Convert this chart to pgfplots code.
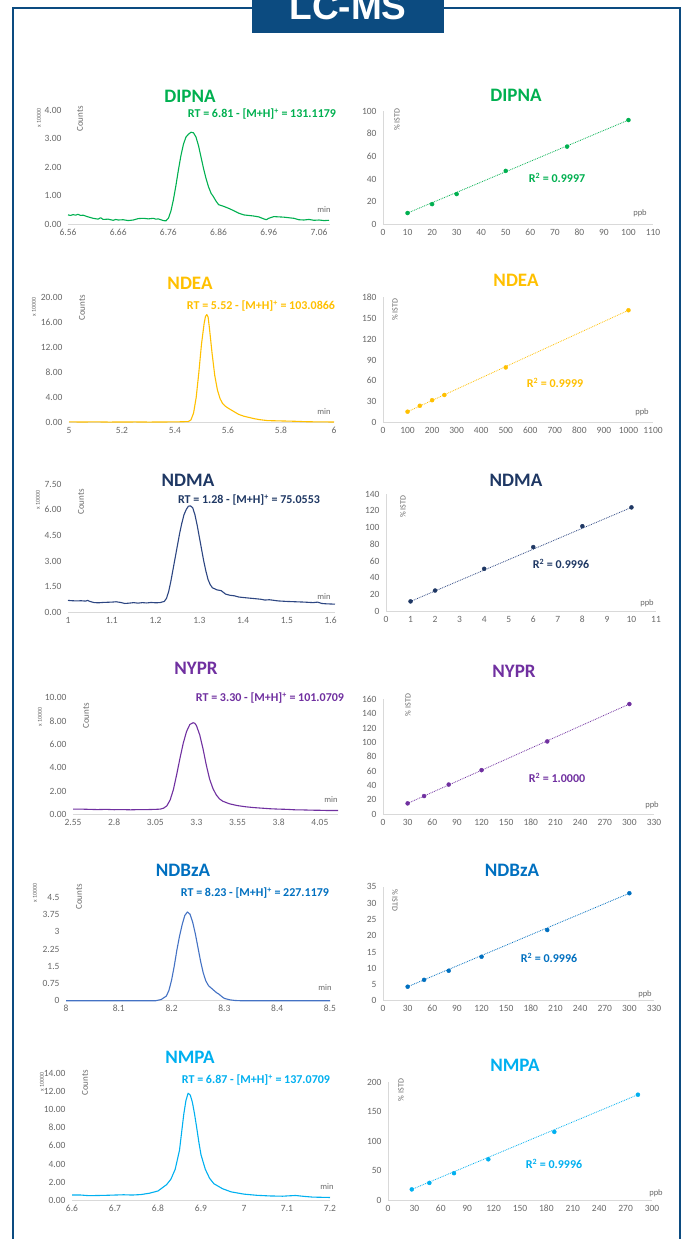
\documentclass[border=0pt]{standalone}
\usepackage{pgfplots}
\pgfplotsset{compat=1.18}
\usepackage{fontspec}
\setmainfont{Carlito}
\newfontfamily\lsb{Liberation Sans}[BoldFont={Liberation Sans Bold}]
\newcommand{\fs}[1]{\fontsize{#1}{#1}\selectfont}
\definecolor{frameblue}{RGB}{12,75,128}
\definecolor{cgreen}{RGB}{0,176,80}
\definecolor{cgold}{RGB}{255,192,0}
\definecolor{cnavy}{RGB}{31,56,100}
\definecolor{cnavyl}{RGB}{45,70,130}
\definecolor{cpurple}{RGB}{112,48,160}
\definecolor{cblue}{RGB}{0,112,192}
\definecolor{cbluel}{RGB}{68,114,196}
\definecolor{ccyan}{RGB}{0,176,240}
\definecolor{axgray}{RGB}{217,217,217}
\definecolor{lblgray}{RGB}{105,105,105}
\pgfplotsset{
  base/.style={scale only axis, anchor=south west, axis lines*=left,
    axis line style={draw=axgray, line width=0.8pt}, major tick length=0pt,
    tick label style={font=\fs{9.5}, text=lblgray},
    /pgf/number format/assume math mode=true, /pgf/number format/1000 sep={},
    clip=false, ymin=0,
    xticklabel style={yshift=-1pt, text height=6.5pt, text depth=0pt, anchor=north},
    yticklabel style={xshift=-3pt, text height=6.5pt, text depth=0pt}},
  leftc/.style={base, y axis line style={draw=none},
    xticklabel style={/pgf/number format/fixed, /pgf/number format/precision=2},
    yticklabel style={/pgf/number format/fixed, /pgf/number format/fixed zerofill, /pgf/number format/precision=2}},
  rightc/.style={base, xmin=0},
  chrom/.style={line width=1.1pt, line join=round, mark=none},
  trend/.style={densely dotted, line width=0.8pt, mark=none},
  pts/.style={only marks, mark=*, mark size=2pt},
}
\begin{document}
\begin{tikzpicture}
\useasboundingbox (0,0) rectangle (684pt,-1239pt);
\clip (0,0) rectangle (684pt,-1239pt);
\fill[white] (0,0) rectangle (684pt,-1239pt);
\draw[frameblue, line width=2.5pt] (13pt,-1260pt) -- (13pt,-8pt) -- (680pt,-8pt) -- (680pt,-1260pt);
\fill[frameblue] (252pt,5pt) rectangle (444pt,-33pt);
\node[anchor=base, text=white, font=\lsb\bfseries\fs{37}, inner sep=0pt] at (348pt,-19.5pt) {LC-MS};

% ================= DIPNA =================
\begin{axis}[leftc, at={(68pt,-224pt)}, width=262pt, height=114pt,
  xmin=6.56, xmax=7.082, ymax=4, xtick={6.56,6.66,6.76,6.86,6.96,7.06}, ytick={0,1,2,3,4}]
\addplot[chrom, cgreen] coordinates {
(6.56,0.32)(6.565,0.30)(6.57,0.33)(6.575,0.31)(6.58,0.34)(6.585,0.30)(6.59,0.31)(6.60,0.25)(6.61,0.20)(6.62,0.17)(6.625,0.22)(6.63,0.16)(6.64,0.17)(6.65,0.13)(6.655,0.16)(6.66,0.14)(6.67,0.15)(6.68,0.12)(6.69,0.14)(6.70,0.19)(6.71,0.20)(6.72,0.18)(6.73,0.20)(6.735,0.17)(6.74,0.18)(6.745,0.15)(6.75,0.12)(6.755,0.11)(6.76,0.20)(6.765,0.45)(6.77,0.85)(6.775,1.35)(6.78,1.90)(6.785,2.40)(6.79,2.80)(6.795,3.05)(6.80,3.15)(6.805,3.22)(6.81,3.20)(6.815,3.05)(6.82,2.75)(6.825,2.35)(6.83,1.95)(6.835,1.60)(6.84,1.30)(6.845,1.08)(6.85,0.95)(6.855,0.80)(6.86,0.68)(6.865,0.65)(6.87,0.62)(6.88,0.55)(6.89,0.47)(6.90,0.38)(6.91,0.32)(6.92,0.30)(6.93,0.28)(6.94,0.25)(6.95,0.18)(6.955,0.15)(6.96,0.20)(6.97,0.26)(6.98,0.25)(6.99,0.24)(7.00,0.22)(7.01,0.20)(7.02,0.15)(7.03,0.14)(7.04,0.16)(7.05,0.13)(7.06,0.14)(7.07,0.12)(7.08,0.13)};
\end{axis}
\begin{axis}[rightc, at={(383pt,-224pt)}, width=270pt, height=113pt,
  xmax=110, ymax=100, xtick={0,10,...,110}, ytick={0,20,...,100}]
\addplot[trend, cgreen] coordinates {(10,9.7)(100,92)};
\addplot[pts, cgreen] coordinates {(10,9.7)(20,17.6)(30,26.5)(50,47)(75,68.5)(100,92)};
\end{axis}

% ================= NDEA =================
\begin{axis}[leftc, at={(69pt,-422.5pt)}, width=265pt, height=125.5pt,
  xmin=5, xmax=6, ymax=20, xtick={5,5.2,5.4,5.6,5.8,6}, ytick={0,4,8,12,16,20}]
\addplot[chrom, cgold] coordinates {
(5.00,0.10)(5.05,0.08)(5.10,0.10)(5.15,0.07)(5.20,0.08)(5.25,0.09)(5.30,0.07)(5.35,0.08)(5.40,0.10)(5.43,0.12)(5.45,0.15)(5.46,0.40)(5.47,1.5)(5.48,4.0)(5.49,8.0)(5.50,12.5)(5.51,15.8)(5.515,16.9)(5.52,17.2)(5.525,16.8)(5.53,15.0)(5.54,11.0)(5.55,7.5)(5.56,5.2)(5.57,3.8)(5.58,3.0)(5.59,2.6)(5.60,2.3)(5.62,1.8)(5.64,1.3)(5.66,1.0)(5.68,0.8)(5.70,0.6)(5.72,0.45)(5.75,0.3)(5.80,0.25)(5.85,0.2)(5.90,0.12)(5.95,0.10)(6.00,0.08)};
\end{axis}
\begin{axis}[rightc, at={(383pt,-422.5pt)}, width=270pt, height=125.5pt,
  xmax=1100, ymax=180, xtick={0,100,...,1100}, ytick={0,30,...,180}]
\addplot[trend, cgold] coordinates {(100,15.5)(1000,161)};
\addplot[pts, cgold] coordinates {(100,15.5)(150,24)(200,32)(250,39.5)(500,79)(1000,161)};
\end{axis}

% ================= NDMA =================
\begin{axis}[leftc, at={(68pt,-612pt)}, width=267pt, height=128pt,
  xmin=1, xmax=1.61, ymax=7.5, xtick={1,1.1,1.2,1.3,1.4,1.5,1.6}, ytick={0,1.5,3,4.5,6,7.5}]
\addplot[chrom, cnavyl] coordinates {
(1.00,0.68)(1.01,0.66)(1.02,0.65)(1.03,0.66)(1.04,0.64)(1.045,0.68)(1.05,0.62)(1.06,0.55)(1.07,0.54)(1.08,0.56)(1.09,0.57)(1.10,0.58)(1.11,0.60)(1.12,0.56)(1.13,0.50)(1.14,0.52)(1.15,0.55)(1.16,0.52)(1.17,0.55)(1.18,0.53)(1.19,0.56)(1.20,0.54)(1.21,0.55)(1.22,0.62)(1.225,0.80)(1.23,1.2)(1.235,1.8)(1.24,2.5)(1.245,3.2)(1.25,3.9)(1.255,4.6)(1.26,5.2)(1.265,5.7)(1.27,6.0)(1.275,6.2)(1.28,6.22)(1.285,6.1)(1.29,5.7)(1.295,5.1)(1.30,4.4)(1.305,3.7)(1.31,3.0)(1.315,2.4)(1.32,1.9)(1.325,1.6)(1.33,1.42)(1.34,1.3)(1.35,1.25)(1.355,1.15)(1.36,1.05)(1.37,0.98)(1.38,0.95)(1.39,0.88)(1.40,0.85)(1.42,0.80)(1.44,0.75)(1.45,0.70)(1.46,0.72)(1.48,0.65)(1.50,0.62)(1.52,0.60)(1.54,0.58)(1.56,0.55)(1.57,0.58)(1.58,0.50)(1.59,0.48)(1.60,0.47)(1.61,0.46)};
\end{axis}
\begin{axis}[rightc, at={(386pt,-611pt)}, width=270pt, height=117pt,
  xmax=11, ymax=140, xtick={0,1,...,11}, ytick={0,20,...,140}]
\addplot[trend, cnavyl] coordinates {(1,11.5)(10,124)};
\addplot[pts, cnavy] coordinates {(1,11.5)(2,24.5)(4,50.5)(6,76.5)(8,101.5)(10,124)};
\end{axis}

% ================= NYPR =================
\begin{axis}[leftc, at={(73pt,-814pt)}, width=265pt, height=116.3pt,
  xmin=2.55, xmax=4.16, ymax=10, xtick={2.55,2.8,3.05,3.3,3.55,3.8,4.05}, ytick={0,2,4,6,8,10}]
\addplot[chrom, cpurple] coordinates {
(2.55,0.42)(2.6,0.42)(2.65,0.40)(2.7,0.38)(2.75,0.40)(2.8,0.37)(2.85,0.38)(2.9,0.36)(2.95,0.38)(3.0,0.38)(3.05,0.40)(3.08,0.42)(3.10,0.50)(3.12,0.7)(3.14,1.2)(3.16,2.1)(3.18,3.4)(3.20,4.8)(3.22,6.1)(3.24,7.1)(3.26,7.7)(3.28,7.85)(3.29,7.8)(3.30,7.6)(3.32,6.8)(3.34,5.6)(3.36,4.2)(3.38,3.0)(3.40,2.2)(3.42,1.65)(3.44,1.30)(3.46,1.1)(3.50,0.88)(3.55,0.72)(3.60,0.62)(3.65,0.55)(3.70,0.50)(3.75,0.45)(3.8,0.42)(3.85,0.40)(3.9,0.36)(3.95,0.35)(4.0,0.33)(4.05,0.32)(4.10,0.30)(4.16,0.30)};
\end{axis}
\begin{axis}[rightc, at={(383pt,-814pt)}, width=271pt, height=115pt,
  xmax=330, ymax=160, xtick={0,30,...,330}, ytick={0,20,...,160}]
\addplot[trend, cpurple] coordinates {(30,14.8)(300,153)};
\addplot[pts, cpurple] coordinates {(30,14.8)(50,25)(80,41)(120,61)(200,101)(300,153)};
\end{axis}

% ================= NDBzA =================
\begin{axis}[leftc, at={(66pt,-1000.7pt)}, width=264pt, height=103.7pt,
  xmin=8, xmax=8.5, ymax=4.5, xtick={8,8.1,8.2,8.3,8.4,8.5}, ytick={0,0.75,1.5,2.25,3,3.75,4.5},
  yticklabel style={/pgf/number format/fixed, /pgf/number format/fixed zerofill=false, /pgf/number format/precision=2}]
\addplot[chrom, cbluel] coordinates {
(8.00,0)(8.10,0)(8.17,0)(8.18,0.05)(8.19,0.2)(8.195,0.45)(8.20,0.9)(8.205,1.5)(8.21,2.2)(8.215,2.8)(8.22,3.3)(8.225,3.7)(8.23,3.85)(8.235,3.75)(8.24,3.4)(8.245,2.9)(8.25,2.3)(8.255,1.7)(8.26,1.2)(8.265,0.85)(8.27,0.65)(8.275,0.55)(8.28,0.45)(8.285,0.35)(8.29,0.28)(8.295,0.18)(8.30,0.10)(8.31,0.04)(8.32,0.01)(8.33,0)(8.5,0)};
\end{axis}
\begin{axis}[rightc, at={(383pt,-1000.7pt)}, width=271pt, height=114pt,
  xmax=330, ymax=35, xtick={0,30,...,330}, ytick={0,5,...,35}]
\addplot[trend, cblue] coordinates {(30,4.3)(300,33)};
\addplot[pts, cblue] coordinates {(30,4.3)(50,6.4)(80,9.2)(120,13.5)(200,21.7)(300,33)};
\end{axis}

% ================= NMPA =================
\begin{axis}[leftc, at={(72pt,-1200pt)}, width=258pt, height=126.7pt,
  xmin=6.6, xmax=7.2, ymax=14, xtick={6.6,6.7,6.8,6.9,7,7.1,7.2}, ytick={0,2,...,14}]
\addplot[chrom, ccyan] coordinates {
(6.60,0.55)(6.62,0.55)(6.64,0.48)(6.66,0.50)(6.68,0.52)(6.70,0.55)(6.72,0.58)(6.74,0.55)(6.76,0.60)(6.78,0.75)(6.80,1.0)(6.82,1.7)(6.83,2.3)(6.84,3.4)(6.85,5.5)(6.855,7.5)(6.86,9.5)(6.865,11.0)(6.87,11.8)(6.875,11.6)(6.88,10.8)(6.885,9.5)(6.89,8.0)(6.895,6.4)(6.90,5.0)(6.91,3.4)(6.92,2.4)(6.93,1.8)(6.95,1.25)(6.97,0.9)(7.00,0.65)(7.03,0.52)(7.06,0.45)(7.09,0.42)(7.10,0.45)(7.12,0.5)(7.14,0.4)(7.16,0.32)(7.18,0.3)(7.20,0.28)};
\end{axis}
\begin{axis}[rightc, at={(388pt,-1200pt)}, width=264pt, height=118pt,
  xmax=300, ymax=200, xtick={0,30,...,300}, ytick={0,50,...,200}]
\addplot[trend, ccyan] coordinates {(27,18)(284,178.5)};
\addplot[pts, ccyan] coordinates {(27,18)(47,29)(75,45.5)(114,69)(189,115.5)(284,178.5)};
\end{axis}

% ================= annotations =================
\tikzset{ttl/.style={font=\bfseries\fs{19}, inner sep=0pt},
  rt/.style={font=\bfseries\fs{12}, inner sep=0pt},
  r2/.style={font=\bfseries\fs{12}, inner sep=0pt},
  xk/.style={rotate=90, font=\fs{6}, text=lblgray, inner sep=0pt},
  cnt/.style={rotate=90, font=\fs{9}, text=lblgray, inner sep=0pt},
  unit/.style={font=\fs{8.5}, text=lblgray, inner sep=0pt},
  istd/.style={rotate=90, font=\fs{8}, text=lblgray, inner sep=0pt}}
% DIPNA
\node[ttl, text=cgreen] at (190pt,-96pt) {DIPNA};
\node[rt, text=cgreen] at (262pt,-114pt) {RT = 6.81 - [M+H]\textsuperscript{+} = 131.1179};
\node[xk] at (39pt,-118pt) {x 10000};
\node[cnt] at (80pt,-119pt) {Counts};
\node[unit] at (324pt,-210pt) {min};
\node[ttl, text=cgreen] at (516pt,-95pt) {DIPNA};
\node[istd] at (397pt,-120pt) {\% ISTD};
\node[r2, text=cgreen] at (557pt,-178pt) {R\textsuperscript{2} = 0.9997};
\node[unit] at (640pt,-213pt) {ppb};
% NDEA
\node[ttl, text=cgold] at (190pt,-283pt) {NDEA};
\node[rt, text=cgold] at (261pt,-306pt) {RT = 5.52 - [M+H]\textsuperscript{+} = 103.0866};
\node[xk] at (34pt,-307pt) {x 10000};
\node[cnt] at (82pt,-308pt) {Counts};
\node[unit] at (324pt,-412pt) {min};
\node[ttl, text=cgold] at (516pt,-280pt) {NDEA};
\node[istd] at (395pt,-310pt) {\% ISTD};
\node[r2, text=cgold] at (555pt,-383pt) {R\textsuperscript{2} = 0.9999};
\node[unit] at (642pt,-412pt) {ppb};
% NDMA
\node[ttl, text=cnavy] at (188pt,-480pt) {NDMA};
\node[rt, text=cnavy] at (249pt,-500pt) {RT = 1.28 - [M+H]\textsuperscript{+} = 75.0553};
\node[xk] at (38pt,-500pt) {x 10000};
\node[cnt] at (81pt,-502pt) {Counts};
\node[unit] at (324pt,-597pt) {min};
\node[ttl, text=cnavy] at (516pt,-480pt) {NDMA};
\node[istd] at (403pt,-507pt) {\% ISTD};
\node[r2, text=cnavy] at (561pt,-564pt) {R\textsuperscript{2} = 0.9996};
\node[unit] at (647pt,-603pt) {ppb};
% NYPR
\node[ttl, text=cpurple] at (196pt,-668pt) {NYPR};
\node[rt, text=cpurple] at (270pt,-698pt) {RT = 3.30 - [M+H]\textsuperscript{+} = 101.0709};
\node[xk] at (40pt,-717pt) {x 10000};
\node[cnt] at (86pt,-716pt) {Counts};
\node[unit] at (331pt,-800pt) {min};
\node[ttl, text=cpurple] at (514pt,-671pt) {NYPR};
\node[istd] at (408pt,-705pt) {\% ISTD};
\node[r2, text=cpurple] at (557pt,-778pt) {R\textsuperscript{2} = 1.0000};
\node[unit] at (652pt,-805pt) {ppb};
% NDBzA
\node[ttl, text=cblue] at (183pt,-870pt) {NDBzA};
\node[rt, text=cblue] at (255pt,-893pt) {RT = 8.23 - [M+H]\textsuperscript{+} = 227.1179};
\node[xk] at (35pt,-893pt) {x 10000};
\node[cnt] at (79pt,-897pt) {Counts};
\node[unit] at (325pt,-988pt) {min};
\node[ttl, text=cblue] at (512pt,-870pt) {NDBzA};
\node[istd, rotate=180] at (395pt,-900pt) {\% ISTD};
\node[r2, text=cblue] at (549pt,-958pt) {R\textsuperscript{2} = 0.9996};
\node[unit] at (645pt,-994pt) {ppb};
% NMPA
\node[ttl, text=ccyan] at (190pt,-1057pt) {NMPA};
\node[rt, text=ccyan] at (256pt,-1080pt) {RT = 6.87 - [M+H]\textsuperscript{+} = 137.0709};
\node[xk] at (42pt,-1082pt) {x 10000};
\node[cnt] at (85pt,-1083pt) {Counts};
\node[unit] at (327pt,-1187pt) {min};
\node[ttl, text=ccyan] at (515pt,-1065pt) {NMPA};
\node[istd] at (401pt,-1090pt) {\% ISTD};
\node[r2, text=ccyan] at (554pt,-1164pt) {R\textsuperscript{2} = 0.9996};
\node[unit] at (656pt,-1193pt) {ppb};
\end{tikzpicture}
\end{document}
